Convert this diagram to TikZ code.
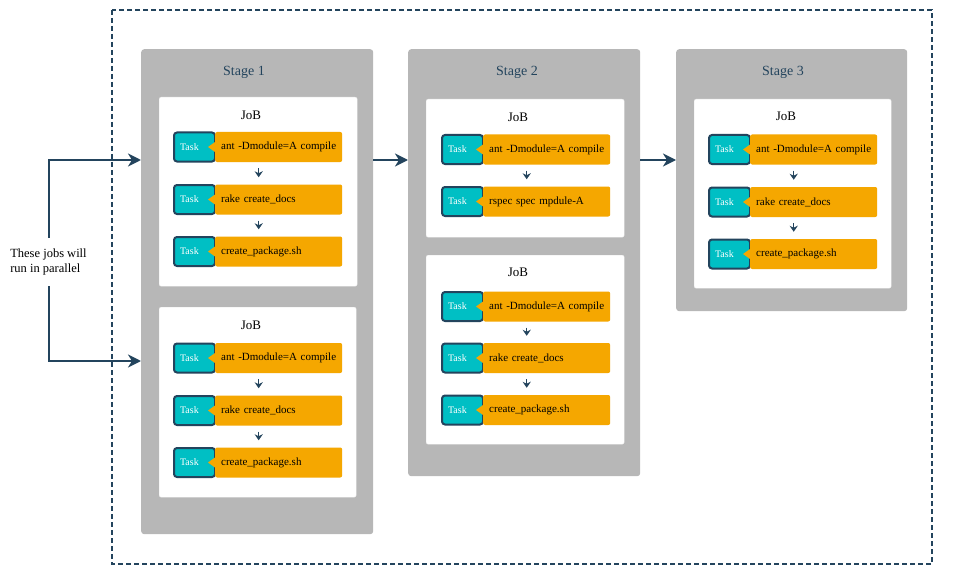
\documentclass[tikz,border=0pt]{standalone}
\usepackage{fontspec}
\setmainfont{Liberation Serif}
\usetikzlibrary{arrows.meta,positioning}

\definecolor{navy}{HTML}{23445D}
\definecolor{tealbox}{HTML}{00BFC4}
\definecolor{amber}{HTML}{F5A700}
\definecolor{stagegray}{HTML}{B7B7B7}

\tikzset{
  stagebox/.style={fill=stagegray, rounded corners=3pt, anchor=north west, inner sep=0pt},
  jobbox/.style={fill=white, draw=black!8, rounded corners=2pt, anchor=north west, inner sep=0pt},
  stagelabel/.style={text=navy, font=\fontsize{14}{16}\selectfont},
  joblabel/.style={font=\fontsize{13}{15}\selectfont},
  taskbox/.style={fill=tealbox, draw=navy, line width=2pt, rounded corners=3pt, anchor=west,
    minimum height=29, text width=29, inner xsep=6, align=left, text=white,
    font=\fontsize{10}{12}\selectfont},
  cmdbox/.style={fill=amber, rounded corners=2pt, anchor=west, minimum height=30,
    text width=115, inner xsep=6, align=left, font=\fontsize{11}{13}\selectfont},
  steparrow/.style={draw=navy, line width=1.4pt, -{Stealth[length=6pt,width=8pt]},
    shorten <=6pt, shorten >=7pt},
  flow/.style={draw=navy, line width=2pt, -{Stealth[length=13pt,width=13pt,inset=4pt]}},
  note/.style={align=left, inner xsep=0pt, inner ysep=11pt, font=\fontsize{12.5}{14.5}\selectfont}
}

% one task: teal tag + orange command with a small pointer
\newcommand{\taskrow}[4]{%
  \node[taskbox] (#1t) at (#2,#3) {Task};
  \node[cmdbox] (#1c) at (#2+42,#3) {#4};
  \fill[amber] ([yshift=5]#1c.west) -- ([xshift=-7]#1c.west) -- ([yshift=-5]#1c.west) -- cycle;
}
\newcommand{\nextstep}[2]{%
  \draw[steparrow] ([xshift=-20]#1c.south) -- ([xshift=-20]#2c.north);
}

\begin{document}
\begin{tikzpicture}[x=1pt,y=-1pt]
  \useasboundingbox (0,0) rectangle (969,575);

  % pipeline frame
  \draw[navy, line width=1.3pt, dash pattern=on 5pt off 3pt] (112,10) rectangle (932,564);

  % stages
  \node[stagebox, minimum width=232, minimum height=485] (stage1) at (141,49) {};
  \node[stagebox, minimum width=232, minimum height=427] (stage2) at (408,49) {};
  \node[stagebox, minimum width=231, minimum height=262] (stage3) at (676,49) {};
  \node[stagelabel] (s1title) at (244,72) {Stage 1};
  \node[stagelabel] (s2title) at (517,72) {Stage 2};
  \node[stagelabel] (s3title) at (783,72) {Stage 3};

  % jobs
  \node[jobbox, minimum width=198, minimum height=189] (job11) at (159,97) {};
  \node[jobbox, minimum width=197, minimum height=190] (job12) at (159,307) {};
  \node[jobbox, minimum width=198, minimum height=138] (job21) at (426,99) {};
  \node[jobbox, minimum width=198, minimum height=189] (job22) at (426,255) {};
  \node[jobbox, minimum width=197, minimum height=189] (job31) at (694,99) {};
  \node[joblabel] (j11title) at (251,115) {JoB};
  \node[joblabel] (j12title) at (251,325) {JoB};
  \node[joblabel] (j21title) at (518,117) {JoB};
  \node[joblabel] (j22title) at (518,272.5) {JoB};
  \node[joblabel] (j31title) at (786,116.5) {JoB};

  % stage 1
  \taskrow{a1}{173}{147}{ant -Dmodule=A compile}
  \taskrow{a2}{173}{199.5}{rake create\_docs}
  \taskrow{a3}{173}{251.5}{create\_package.sh}
  \nextstep{a1}{a2}
  \nextstep{a2}{a3}

  \taskrow{b1}{173}{358}{ant -Dmodule=A compile}
  \taskrow{b2}{173}{410.5}{rake create\_docs}
  \taskrow{b3}{173}{462.5}{create\_package.sh}
  \nextstep{b1}{b2}
  \nextstep{b2}{b3}

  % stage 2
  \taskrow{c1}{441}{149.5}{ant -Dmodule=A compile}
  \taskrow{c2}{441}{201.5}{rspec spec mpdule-A}
  \nextstep{c1}{c2}

  \taskrow{d1}{441}{306.5}{ant -Dmodule=A compile}
  \taskrow{d2}{441}{358}{rake create\_docs}
  \taskrow{d3}{441}{410}{create\_package.sh}
  \nextstep{d1}{d2}
  \nextstep{d2}{d3}

  % stage 3
  \taskrow{e1}{708}{149.5}{ant -Dmodule=A compile}
  \taskrow{e2}{708}{202}{rake create\_docs}
  \taskrow{e3}{708}{254}{create\_package.sh}
  \nextstep{e1}{e2}
  \nextstep{e2}{e3}

  % flow between stages
  \node[note] (note) at (48.5,262) {These jobs will\\run in parallel};
  \coordinate (lvl1) at (0,160);
  \coordinate (lvl2) at (0,361);
  \draw[flow] (note.north) |- (stage1.west |- lvl1);
  \draw[flow] (note.south) |- (stage1.west |- lvl2);
  \draw[flow] (stage1.east |- lvl1) -- (stage2.west |- lvl1);
  \draw[flow] (stage2.east |- lvl1) -- (stage3.west |- lvl1);
\end{tikzpicture}
\end{document}
